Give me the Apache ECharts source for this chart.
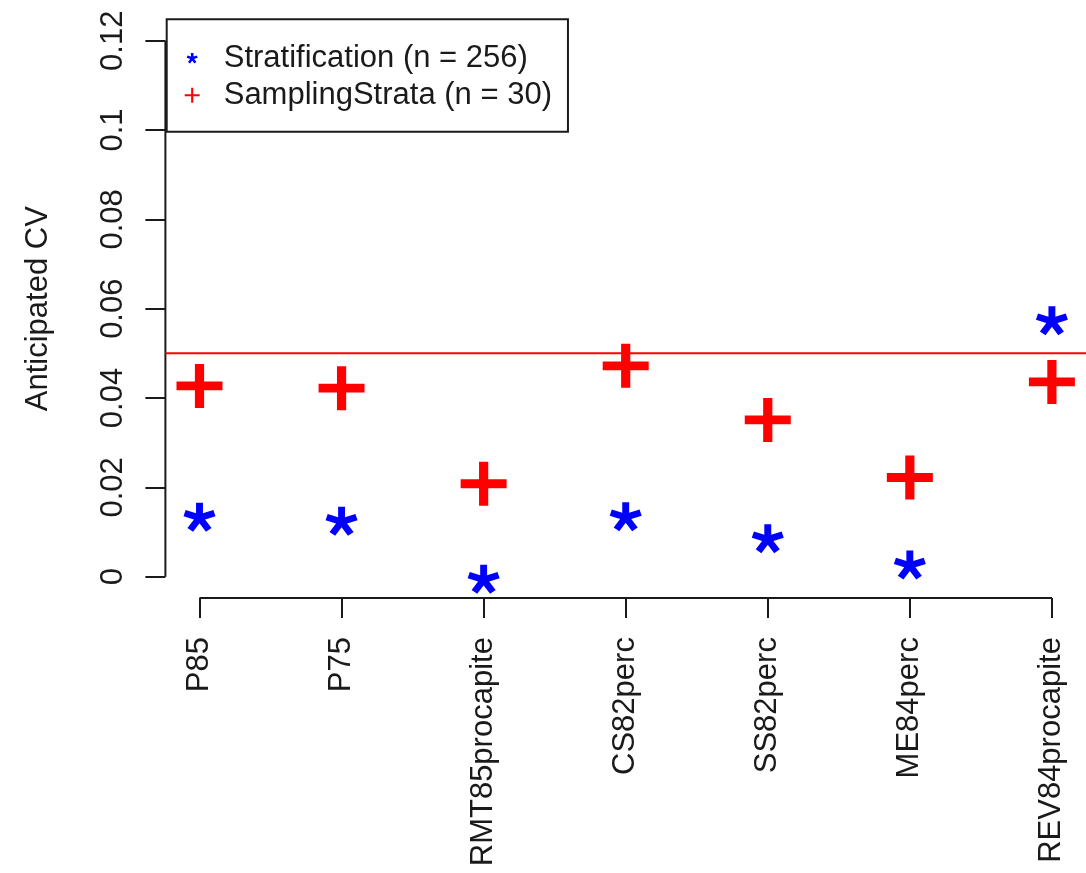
<!DOCTYPE html>
<html>
<head>
<meta charset="utf-8">
<title>Anticipated CV</title>
<script src="https://cdn.jsdelivr.net/npm/echarts@6/dist/echarts.min.js"></script>
<style>
  html, body { margin: 0; padding: 0; background: #fff; }
  #chart { width: 1086px; height: 873px; }
</style>
</head>
<body>
<div id="chart"></div>
<script>
// Variables along the x axis
const categories = ['P85', 'P75', 'RMT85procapite', 'CS82perc', 'SS82perc', 'ME84perc', 'REV84procapite'];
// Anticipated CV per variable
const stratificationCV = [0.0133, 0.0124, -0.0006, 0.0134, 0.0085, 0.0026, 0.0573];
const samplingStrataCV = [0.0427, 0.0422, 0.0208, 0.0472, 0.0351, 0.0222, 0.0436];
// Target CV drawn as a horizontal reference line
const targetCV = 0.05;
// y axis ticks
const yTickValues = [0, 0.02, 0.04, 0.06, 0.08, 0.1, 0.12];
const yTickLabels = ['0', '0.02', '0.04', '0.06', '0.08', '0.1', '0.12'];
const seriesNames = ['Stratification (n = 256)', 'SamplingStrata (n = 30)'];

const FONT = '"Liberation Sans", Arial, sans-serif';
const INK = '#1a1a1a';

// Plot limits with the usual 4% padding on each side
const xTicks = categories.map((_, i) => i + 1);
const xLo = 1, xHi = categories.length;
const yLo = yTickValues[0], yHi = yTickValues[yTickValues.length - 1];
const xPad = (xHi - xLo) * 0.04, yPad = (yHi - yLo) * 0.04;
const xMin = xLo - xPad, xMax = xHi + xPad;
const yMin = yLo - yPad, yMax = yHi + yPad;

// Plus sign marker
function plusPath(t) {
  const a = 5 - t / 2, b = 5 + t / 2;
  return `path://M${a},0H${b}V${a}H10V${b}H${b}V10H${a}V${b}H0V${a}H${a}Z`;
}
// Five-armed asterisk marker built from rotated bars
function asteriskPath(len, half, pad) {
  const angles = [-90, -18, 54, 126, 198];
  let d = '';
  angles.forEach(deg => {
    const r = deg * Math.PI / 180;
    const dx = Math.cos(r), dy = Math.sin(r);
    const px = -dy * half, py = dx * half;
    const sx = -dx * half * 0.6, sy = -dy * half * 0.6;
    const tx = dx * len, ty = dy * len;
    const pts = [
      [sx + px, sy + py], [tx + px, ty + py], [tx - px, ty - py], [sx - px, sy - py]
    ].map(p => p.map(v => v.toFixed(2)).join(','));
    d += 'M' + pts[0] + 'L' + pts[1] + 'L' + pts[2] + 'L' + pts[3] + 'Z';
  });
  if (pad) d += `M${-pad},${-pad}M${pad},${pad}`;
  return 'path://' + d;
}

const chart = echarts.init(document.getElementById('chart'), null, { renderer: 'canvas' });

const axisStroke = { color: INK, width: 2 };

chart.setOption({
  animation: false,
  backgroundColor: '#ffffff',
  grid: {
    left: 165.4, right: 0, top: 19.3, bottom: 274.9,
    containLabel: false, outerBoundsMode: 'none'
  },
  legend: {
    left: 166.7, top: 19.3,
    orient: 'vertical',
    padding: [20.5, 16, 18, 18],
    itemGap: 0,
    itemWidth: 15, itemHeight: 15,
    borderColor: INK, borderWidth: 2,
    selectedMode: false,
    textStyle: { fontFamily: FONT, fontSize: 31, color: INK, lineHeight: 37, padding: [0, 0, 0, 19] },
    data: [
      { name: seriesNames[0], icon: asteriskPath(50, 12, 70), itemStyle: { color: '#0000ff', opacity: 1 } },
      { name: seriesNames[1], icon: plusPath(1.4), itemStyle: { color: '#ff0000', opacity: 1 } }
    ]
  },
  xAxis: {
    type: 'value', min: xMin, max: xMax,
    axisLine: { show: false, onZero: false },
    splitLine: { show: false },
    axisTick: { show: true, customValues: xTicks, length: 20, lineStyle: axisStroke },
    axisLabel: {
      customValues: xTicks,
      rotate: 90, margin: 39,
      fontFamily: FONT, fontSize: 31, color: INK,
      formatter: v => categories[Math.round(v) - 1]
    }
  },
  yAxis: {
    type: 'value', min: yMin, max: yMax,
    name: 'Anticipated CV', nameLocation: 'middle', nameRotate: 90, nameGap: 111,
    nameTextStyle: { fontFamily: FONT, fontSize: 31, color: INK },
    axisLine: { show: false, onZero: false },
    splitLine: { show: false },
    axisTick: { show: true, customValues: yTickValues, length: 20, lineStyle: axisStroke },
    axisLabel: {
      customValues: yTickValues,
      rotate: 90, margin: 36,
      fontFamily: FONT, fontSize: 31, color: INK,
      formatter: v => yTickLabels[yTickValues.findIndex(t => Math.abs(t - v) < 1e-9)]
    }
  },
  series: [
    {
      // left axis line, spanning the tick range
      type: 'line', silent: true, clip: false, symbol: 'none',
      lineStyle: axisStroke, z: 1,
      data: [[xMin, yLo], [xMin, yHi]]
    },
    {
      // bottom axis line, spanning the tick range
      type: 'line', silent: true, clip: false, symbol: 'none',
      lineStyle: axisStroke, z: 1,
      data: [[xLo, yMin], [xHi, yMin]]
    },
    {
      // target CV reference line
      type: 'line', silent: true, clip: false, symbol: 'none',
      lineStyle: { color: '#ff0000', width: 2 }, z: 2,
      data: [[xMin, targetCV], [xMax, targetCV]]
    },
    {
      name: seriesNames[0], type: 'scatter', clip: false, z: 3,
      symbol: asteriskPath(50, 11, 0), symbolSize: [32, 29],
      itemStyle: { color: '#0000ff', opacity: 1 },
      data: stratificationCV.map((v, i) => [xTicks[i], v])
    },
    {
      name: seriesNames[1], type: 'scatter', clip: false, z: 3,
      symbol: plusPath(2), symbolSize: [46, 44],
      itemStyle: { color: '#ff0000', opacity: 1 },
      data: samplingStrataCV.map((v, i) => [xTicks[i], v])
    }
  ]
});
</script>
</body>
</html>
